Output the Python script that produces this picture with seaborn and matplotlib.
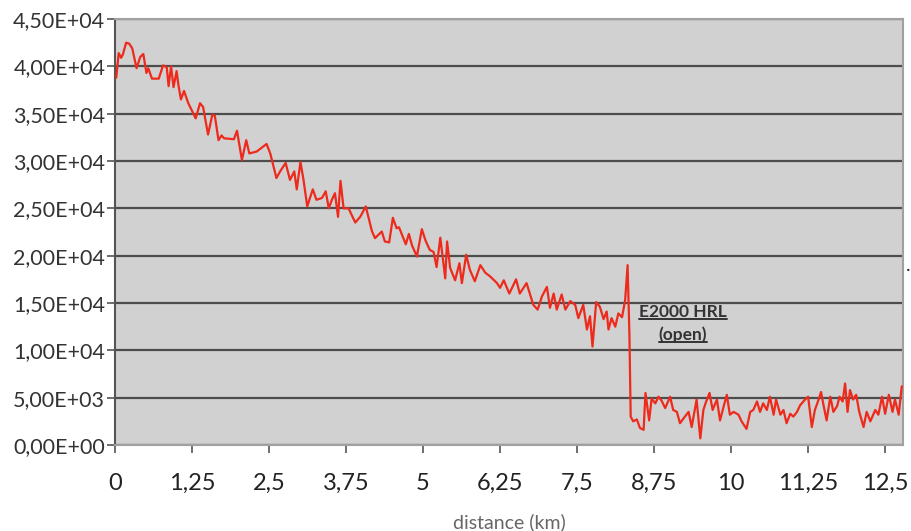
import numpy as np
import pandas as pd
import matplotlib
matplotlib.use("Agg")
import matplotlib.pyplot as plt
import seaborn as sns
from matplotlib.ticker import FuncFormatter

distance_km = [
    0.02, 0.06, 0.10, 0.13, 0.18, 0.23, 0.28, 0.35, 0.41, 0.46,
    0.51, 0.54, 0.60, 0.71, 0.78, 0.84, 0.87, 0.91, 0.95, 1.00,
    1.03, 1.07, 1.12, 1.19, 1.31, 1.38, 1.43, 1.51, 1.58, 1.62,
    1.68, 1.73, 1.77, 1.93, 1.98, 2.06, 2.13, 2.18, 2.30, 2.38,
    2.46, 2.52, 2.62, 2.68, 2.77, 2.84, 2.91, 2.95, 3.01, 3.06,
    3.12, 3.21, 3.27, 3.36, 3.42, 3.47, 3.52, 3.57, 3.62, 3.66,
    3.71, 3.79, 3.90, 3.98, 4.07, 4.17, 4.22, 4.33, 4.38, 4.45,
    4.51, 4.57, 4.61, 4.72, 4.77, 4.82, 4.90, 4.98, 5.04, 5.11,
    5.17, 5.22, 5.28, 5.36, 5.39, 5.44, 5.52, 5.59, 5.63, 5.70,
    5.76, 5.84, 5.93, 6.01, 6.09, 6.20, 6.25, 6.31, 6.40, 6.51,
    6.57, 6.68, 6.79, 6.86, 6.93, 7.01, 7.06, 7.12, 7.17, 7.25,
    7.31, 7.39, 7.47, 7.52, 7.60, 7.66, 7.71, 7.75, 7.81, 7.87,
    7.93, 7.98, 8.01, 8.06, 8.12, 8.17, 8.23, 8.28, 8.32, 8.35,
    8.37, 8.41, 8.47, 8.52, 8.58, 8.61, 8.67, 8.71, 8.77, 8.82,
    8.87, 8.93, 9.01, 9.06, 9.12, 9.17, 9.25, 9.31, 9.36, 9.44,
    9.50, 9.55, 9.59, 9.65, 9.70, 9.77, 9.82, 9.88, 9.93, 9.98,
    10.04, 10.12, 10.17, 10.25, 10.31, 10.36, 10.42, 10.47, 10.52, 10.58,
    10.63, 10.69, 10.73, 10.80, 10.85, 10.90, 10.96, 11.01, 11.07, 11.12,
    11.20, 11.25, 11.31, 11.36, 11.42, 11.46, 11.50, 11.55, 11.61, 11.66,
    11.72, 11.76, 11.81, 11.85, 11.89, 11.93, 11.98, 12.03, 12.08, 12.15,
    12.20, 12.26, 12.34, 12.39, 12.45, 12.50, 12.56, 12.62, 12.66, 12.72,
    12.77,
]
signal = [
    38800, 41400, 40900, 41300, 42500, 42400, 41900, 39800, 41000, 41300,
    39300, 39800, 38700, 38700, 40100, 39900, 37900, 40000, 37800, 39500,
    38000, 36500, 37400, 36100, 34500, 36100, 35700, 32800, 34900, 34800,
    32200, 32700, 32400, 32300, 33200, 30100, 32200, 30800, 31000, 31400,
    31800, 30800, 28200, 28900, 29800, 28000, 28900, 27000, 29900, 28000,
    25200, 27000, 25900, 26100, 26800, 25000, 25900, 26600, 24100, 27900,
    25000, 25000, 23500, 24100, 25200, 22600, 21850, 22550, 21500, 21400,
    24000, 22900, 23000, 21200, 22300, 21100, 19900, 22800, 21600, 20600,
    20400, 18800, 21900, 17600, 21500, 18700, 17400, 19200, 17100, 20100,
    18500, 17300, 19000, 18200, 17800, 17100, 16600, 17400, 16000, 17500,
    16000, 17100, 14800, 14300, 15700, 16700, 14500, 16000, 14300, 15900,
    14300, 15200, 14800, 13400, 14800, 12200, 13600, 10400, 15100, 14600,
    13300, 14100, 12200, 13400, 12500, 13900, 13500, 15300, 19000, 11500,
    3000, 2500, 2700, 1800, 1600, 5500, 2600, 4900, 4400, 5100,
    4700, 3900, 5100, 3700, 3500, 2300, 3000, 3500, 1900, 4800,
    700, 3700, 4500, 5500, 3700, 4800, 2600, 4100, 5300, 3200,
    3500, 3200, 2500, 1700, 3500, 3700, 4600, 3500, 4400, 3700,
    5100, 3200, 4800, 3200, 3700, 2300, 3300, 3000, 3500, 4200,
    4800, 5100, 1900, 3700, 4800, 5600, 4200, 2600, 5100, 3500,
    4100, 5100, 4600, 6500, 3500, 5800, 4800, 5300, 3500, 1900,
    3500, 2500, 3700, 3200, 5100, 3300, 5300, 3500, 4800, 3200,
    6200,
]
x_ticks = [0, 1.25, 2.5, 3.75, 5, 6.25, 7.5, 8.75, 10, 11.25, 12.5]
y_ticks = [0, 5000, 10000, 15000, 20000, 25000, 30000, 35000, 40000, 45000]
annotation_lines = ["E2000 HRL", "(open)"]

df = pd.DataFrame({"distance": distance_km, "signal": signal})

sns.set_style("white")
plt.rcParams["font.family"] = ["Lato", "DejaVu Sans"]

fig = plt.figure(figsize=(9.12, 5.31), dpi=100)
ax = fig.add_axes([115 / 912, 86 / 531, 788 / 912, 426 / 531])
ax.set_facecolor("#d1d1d1")

sns.lineplot(data=df, x="distance", y="signal", ax=ax, color="#ee2a1c",
             linewidth=1.6, estimator=None, sort=False, zorder=3)

ax.set_xlim(0, 12.79)
ax.set_ylim(0, 45000)
ax.set_xticks(x_ticks)
ax.set_yticks(y_ticks)
ax.xaxis.set_major_formatter(FuncFormatter(lambda v, p: f"{v:g}".replace(".", ",")))
ax.yaxis.set_major_formatter(FuncFormatter(lambda v, p: f"{v:.2E}".replace(".", ",")))

ax.grid(axis="y", color="#4d4d4d", linewidth=1.6, zorder=1)
ax.grid(axis="x", visible=False)
ax.set_axisbelow(True)

for side in ["top", "right"]:
    ax.spines[side].set_color("#a0a0a0")
    ax.spines[side].set_linewidth(1.5)
ax.spines["left"].set_color("#555555")
ax.spines["left"].set_linewidth(1.5)
ax.spines["bottom"].set_color("#a0a0a0")
ax.spines["bottom"].set_linewidth(1.5)

ax.tick_params(axis="y", direction="out", length=6, width=1.2, color="#555555",
               labelsize=15.5, labelcolor="#333333", pad=1, left=True)
ax.tick_params(axis="x", direction="out", length=6, width=1.2, color="#555555",
               labelsize=17, labelcolor="#222222", pad=14, bottom=True)

ax.set_xlabel("distance (km)", fontsize=14, color="#666666", labelpad=14)
ax.set_ylabel("")

# annotation with underline
t1 = ax.text(9.22, 14100, annotation_lines[0], fontsize=12.5, fontweight="bold",
             color="#333333", ha="center", va="center", zorder=4)
t2 = ax.text(9.22, 11650, annotation_lines[1], fontsize=12.5, fontweight="bold",
             color="#333333", ha="center", va="center", zorder=4)
fig.canvas.draw()
inv = ax.transData.inverted()
for t in (t1, t2):
    bb = t.get_window_extent()
    (x0, y0), (x1, _) = inv.transform([(bb.x0, bb.y0 + 1), (bb.x1, bb.y0 + 1)])
    ax.plot([x0, x1], [y0, y0], color="#333333", linewidth=1.4, zorder=4)

fig.text(0.996, 0.50, ".", fontsize=14, color="#222222", ha="center", va="center")

fig.savefig("out.png", dpi=100)
